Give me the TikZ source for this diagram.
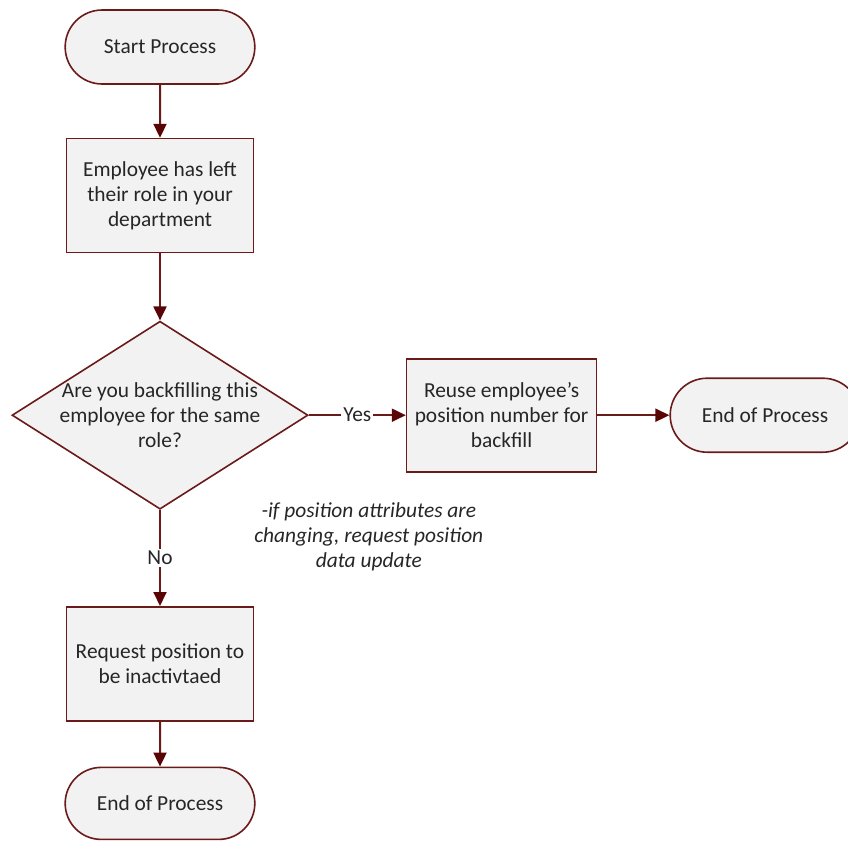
\documentclass[tikz,border=0pt]{standalone}
\usepackage{fontspec}
\setmainfont{Carlito}
\usepackage{xcolor}
\usepackage{tikz}
\usetikzlibrary{arrows.meta,positioning,shapes.geometric,shapes.misc}
\definecolor{edge}{HTML}{6B1A1A}
\definecolor{tip}{HTML}{5A0505}
\definecolor{shade}{HTML}{F2F2F2}
\definecolor{ink}{HTML}{262626}

\begin{document}
\begin{tikzpicture}[
  font=\fontsize{10.7pt}{12.5pt}\selectfont,
  base/.style={draw=edge,line width=0.8pt,fill=shade,text=ink,align=center},
  term/.style={base,rounded rectangle,minimum width=101.5pt,minimum height=37pt},
  box/.style={base,rectangle,minimum width=93.5pt,minimum height=57pt,inner sep=2pt},
  dec/.style={base,diamond,minimum width=148pt,minimum height=94pt,inner sep=0pt},
  dectext/.style={text=ink,align=center,inner sep=0pt},
  note/.style={text=ink,align=center,font=\fontsize{10.7pt}{12.5pt}\selectfont\itshape,inner sep=1pt},
  tag/.style={fill=white,text=ink,inner sep=1pt},
  arr/.style={-{Triangle[length=7pt,width=6.5pt,color=tip]},line width=1pt,color=edge}
]
\useasboundingbox (0,0) rectangle (424pt,-421pt);
\node[term] (start) at (80pt,-23.5pt) {Start Process};
\node[box,below=26.5pt of start] (left) {Employee has left\\their role in your\\department};
\node[dec,below=33.5pt of left,
  label={[dectext]center:{Are you backfilling this\\employee for the same\\role?}}] (back) {};
\node[box,right=48.5pt of back,minimum height=56.5pt,minimum width=95pt] (reuse) {Reuse employee’s\\position number for\\backfill};
\node[term,right=36pt of reuse] (endr) {End of Process};
\node[box,below=48pt of back] (inact) {Request position to\\be inactivtaed};
\node[term,below=22.5pt of inact,minimum height=36pt] (endb) {End of Process};
\node[note,below=14pt of reuse.south west,xshift=-18.5pt] (upd) {-if position attributes are\\changing, request position\\data update};
\draw[arr] (start)--(left);
\draw[arr] (left)--(back);
\draw[arr] (back)--node[tag]{Yes}(reuse);
\draw[arr] (reuse)--(endr);
\draw[arr] (back)--node[tag]{No}(inact);
\draw[arr] (inact)--(endb);
\end{tikzpicture}
\end{document}
